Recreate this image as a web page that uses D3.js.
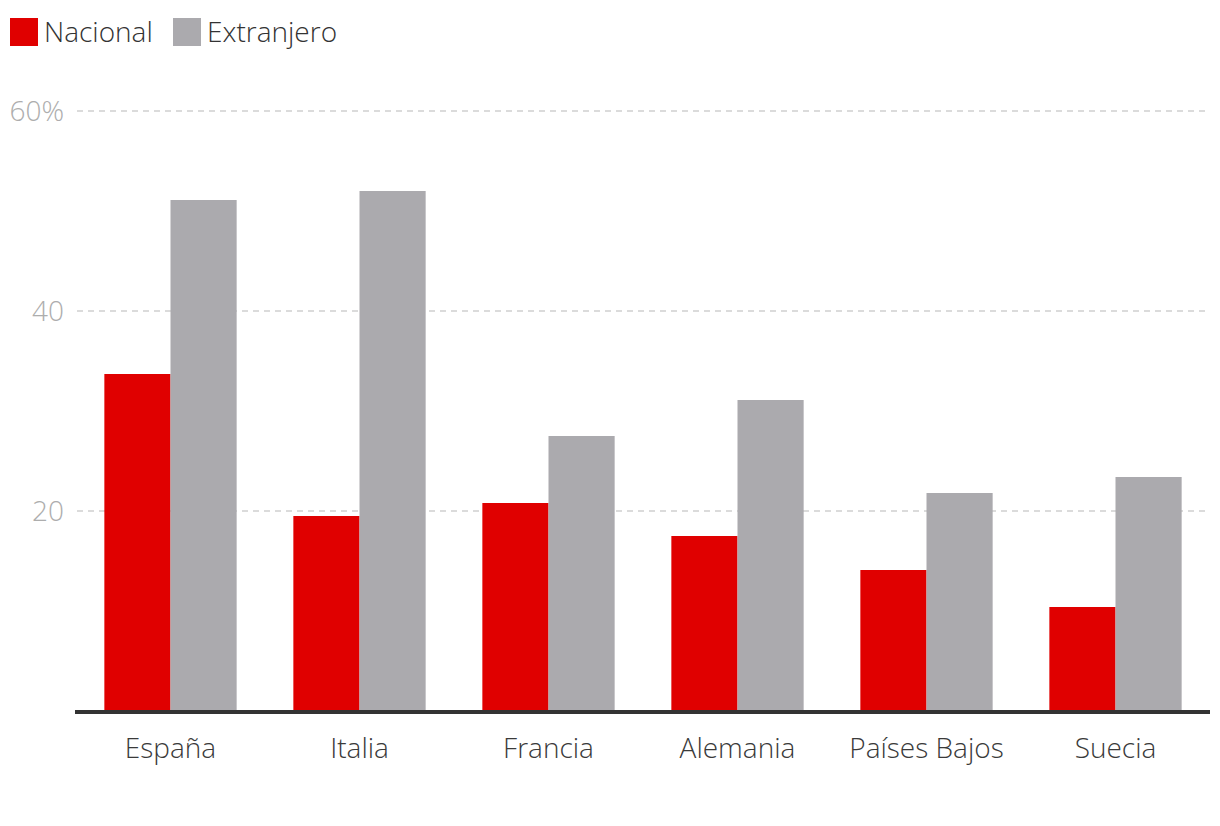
<!DOCTYPE html>
<html><head><meta charset="utf-8">
<script src="https://cdn.jsdelivr.net/npm/d3@7"></script>
<style>
body{margin:0;background:#fff;}
text{font-family:"Open Sans",sans-serif;font-weight:300;}
</style></head>
<body><svg id="c" width="1220" height="826"></svg>
<script>
const categories = ["España","Italia","Francia","Alemania","Países Bajos","Suecia"];
const seriesNames = ["Nacional","Extranjero"];
const nacional = [33.7,19.5,20.8,17.5,14.1,10.4];
const extranjero = [51.1,52.0,27.5,31.1,21.8,23.4];
const yTicks = [20,40,60];
const colors = ["#e00000","#abaaae"];

const svg = d3.select("#c");
const x0 = d3.scaleBand().domain(categories).range([76,1210]).paddingInner(0.3).paddingOuter(0.15);
const x1 = d3.scaleBand().domain(seriesNames).range([0,x0.bandwidth()]);
const y = d3.scaleLinear().domain([0,60]).range([711,111]);

// gridlines
svg.append("g").selectAll("line").data(yTicks).join("line")
  .attr("x1",77).attr("x2",1210)
  .attr("y1",d=>y(d)).attr("y2",d=>y(d))
  .attr("stroke","#cfcfcf").attr("stroke-width",1.5).attr("stroke-dasharray","6,5");
svg.append("g").selectAll("text").data(yTicks).join("text")
  .attr("x",64).attr("y",d=>y(d)).attr("dy","0.35em")
  .attr("text-anchor","end").attr("font-size",28).attr("fill","#adadad")
  .text(d=>d===60?d+"%":d);

const data = categories.map((c,i)=>({c,vals:[nacional[i],extranjero[i]]}));
const g = svg.append("g").selectAll("g").data(data).join("g")
  .attr("transform",d=>`translate(${x0(d.c)},0)`);
g.selectAll("rect").data(d=>d.vals.map((v,j)=>({s:seriesNames[j],v,j}))).join("rect")
  .attr("x",d=>x1(d.s)).attr("width",x1.bandwidth())
  .attr("y",d=>y(d.v)).attr("height",d=>y(0)-y(d.v))
  .attr("fill",d=>colors[d.j]);

// axis baseline
svg.append("line").attr("x1",75).attr("x2",1210).attr("y1",712).attr("y2",712)
  .attr("stroke","#333").attr("stroke-width",4);
svg.append("g").selectAll("text").data(categories).join("text")
  .attr("x",d=>x0(d)+x0.bandwidth()/2).attr("y",758)
  .attr("text-anchor","middle").attr("font-size",28).attr("fill","#3a3a3a")
  .text(d=>d);

// legend
const leg = [{n:seriesNames[0],x:10,tx:44},{n:seriesNames[1],x:173,tx:207}];
leg.forEach((l,i)=>{
  svg.append("rect").attr("x",l.x).attr("y",18).attr("width",28).attr("height",28).attr("fill",colors[i]);
  svg.append("text").attr("x",l.tx).attr("y",42).attr("font-size",28).attr("fill","#333").text(l.n);
});
</script></body></html>
